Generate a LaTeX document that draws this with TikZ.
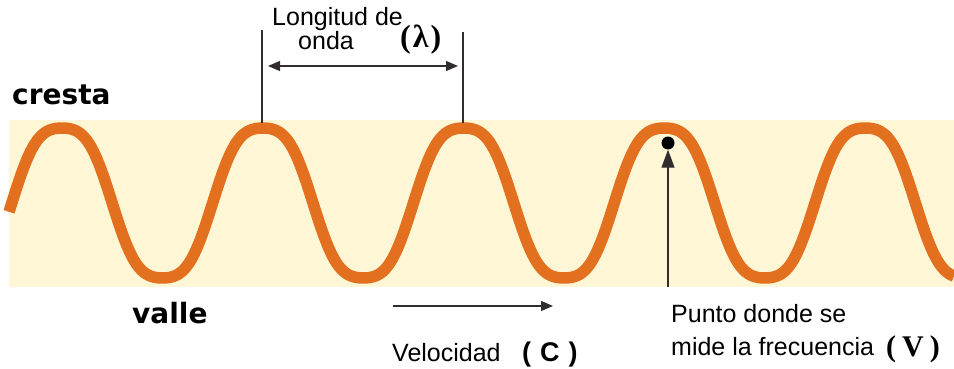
\documentclass[tikz,border=0pt]{standalone}
\usepackage{fontspec}
\setmainfont{Liberation Sans}
\newfontfamily\dvs{DejaVu Sans}
\newfontfamily\lserif{Liberation Serif}
\usetikzlibrary{arrows.meta}
\definecolor{band}{RGB}{255,246,214}
\definecolor{wave}{RGB}{226,112,30}
\definecolor{guide}{RGB}{50,45,45}
\begin{document}
\begin{tikzpicture}[x=1pt,y=-1pt,
  lbl/.style={inner sep=0pt, anchor=base west, font=\fontsize{25}{25}\selectfont},
  big/.style={inner sep=0pt, anchor=base west, font=\dvs\bfseries\fontsize{28}{28}\selectfont},
  sym/.style={inner sep=0pt, anchor=base west, font=\lserif\bfseries\fontsize{30}{30}\selectfont},
  guideline/.style={draw=guide, line width=1.2pt},
  twoway/.style={guideline, {Triangle[length=12pt,width=10pt]}-{Triangle[length=12pt,width=10pt]}},
  oneway/.style={guideline, -{Triangle[length=12pt,width=10pt]}}
]
\useasboundingbox (0,0) rectangle (954,369);
\fill[band] (9,120) rectangle (954,287);
\draw[wave, line width=11.5pt] plot[domain=9:954, samples=400, smooth]
  (\x, {203 - 75*(cos(1.79283*(\x-62)) - 0.08*cos(5.37849*(\x-62)))/0.92});

% labels
\node[big] (cresta) at (12,105) {cresta};
\node[big] (valle) at (132,323) {valle};

% wavelength
\node[lbl, align=left, font=\fontsize{25}{20}\selectfont] (lon) at (272,50) {Longitud de\\\hspace*{26pt}onda};
\node[sym, font=\lserif\bfseries\fontsize{32}{32}\selectfont] (lam) at (400,48) {(\kern2ptλ\kern2pt)};
\coordinate (t1) at (262,30);
\coordinate (c1) at (262,123);
\coordinate (t2) at (463,32);
\coordinate (c2) at (463,123);
\draw[guideline] (t1) -- (c1);
\draw[guideline] (t2) -- (c2);
\coordinate (a1) at (268,66);
\coordinate (a2) at (458,66);
\draw[twoway] (a1) -- (a2);

% velocity
\coordinate (v1) at (393,306);
\coordinate (v2) at (553,306);
\draw[oneway] (v1) -- (v2);
\node[lbl] (vel) at (392,361) {Velocidad};
\node[inner sep=0pt, anchor=base west, font=\bfseries\fontsize{27}{27}\selectfont] (C) at (522,361) {(\kern9ptC\kern9pt)};

% frequency point
\node[circle, fill=black, minimum size=13pt, inner sep=0pt] (dot) at (668,143) {};
\coordinate (fb) at (668,287);
\draw[guideline, -{Triangle[length=18pt,width=13pt]}] (fb) -- (dot.south);
\node[lbl] (p1) at (671,322) {Punto donde se};
\node[lbl] (p2) at (671,355) {mide la frecuencia};
\node[sym] (V) at (886,356) {(\kern6ptV\kern6pt)};
\end{tikzpicture}
\end{document}
